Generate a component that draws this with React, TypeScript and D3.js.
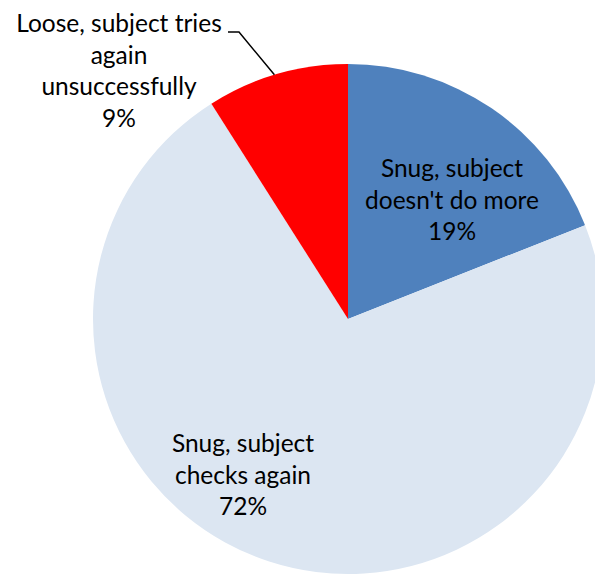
import React from "react";
import * as d3 from "d3";

const categories = [
  "Snug, subject doesn't do more",
  "Snug, subject checks again",
  "Loose, subject tries again unsuccessfully",
];
const values = [19, 72, 9];
const colors = ["#4F81BD", "#DCE6F2", "#FF0000"];
const labelLines = [
  ["Snug, subject", "doesn't do more", "19%"],
  ["Snug, subject", "checks again", "72%"],
  ["Loose, subject tries", "again", "unsuccessfully", "9%"],
];
const labelPos = [
  [452, 177],
  [243, 452],
  [119, 32],
];

export default function App() {
  const W = 595, H = 575;
  const cx = 348, cy = 319, r = 255;
  const pie = d3.pie<number>().sort(null).startAngle(0).endAngle(2 * Math.PI);
  const arcs = pie(values);
  const arcGen = d3.arc<d3.PieArcDatum<number>>().innerRadius(0).outerRadius(r);
  const lineH = 31.5;
  const red = arcs[2];
  const la = (red.startAngle + red.endAngle) / 2 - 0.01;
  const ex = cx + r * Math.sin(la), ey = cy - r * Math.cos(la);
  return (
    <svg width={W} height={H} style={{ position: "absolute", left: 0, top: 0 }}>
      <g transform={`translate(${cx},${cy})`}>
        {arcs.map((a, i) => (
          <path key={categories[i]} d={arcGen(a) || ""} fill={colors[i]} />
        ))}
      </g>
      <polyline points={`228,32 239,32 ${ex},${ey}`} fill="none" stroke="#000" strokeWidth={1.5} />
      {labelLines.map((lines, i) => (
        <text key={i} x={labelPos[i][0]} y={labelPos[i][1]} textAnchor="middle"
          fontFamily="Lato, 'Open Sans', sans-serif" fontSize={24.5} fill="#000">
          {lines.map((l, j) => (
            <tspan key={j} x={labelPos[i][0]} y={labelPos[i][1] + j * lineH}>{l}</tspan>
          ))}
        </text>
      ))}
    </svg>
  );
}
